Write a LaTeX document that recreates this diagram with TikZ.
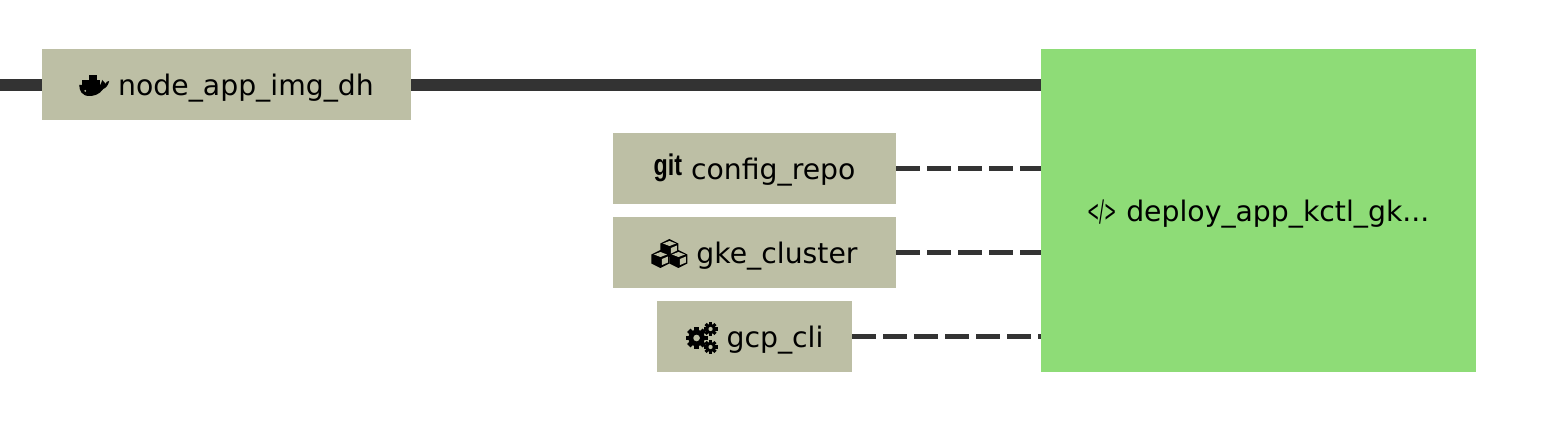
\documentclass[tikz,border=0pt]{standalone}
\usepackage{fontspec}
\setmainfont{DejaVu Sans}
\newfontfamily\iconfont{Liberation Sans}
\usetikzlibrary{positioning, arrows.meta}
\definecolor{jobtan}{HTML}{BDBFA5}
\definecolor{jobgreen}{HTML}{8EDC77}
\definecolor{linegray}{HTML}{333333}

% small icons, one unit is one pixel of the picture, y=0 on the text baseline
\newcommand{\dockericon}{\tikz[x=0.02cm,y=-0.02cm,baseline={(0,0)}]{
    \path (0,0) rectangle (29,-20);
    \fill[black] (3,-16) rectangle (21,-9);
    \fill[black] (10,-21) rectangle (18,-16);
    \fill[black] (0,-11) -- (21,-11) .. controls (22,-12) and (22,-14) .. (23,-16)
      .. controls (25,-14) and (26,-13) .. (26,-12)
      .. controls (27,-14) and (28,-15) .. (30,-15)
      .. controls (29,-11) and (27,-8) .. (24,-7)
      .. controls (20,-1) and (14,0) .. (10,0)
      .. controls (3,0) and (0,-5) .. (0,-11) -- cycle;
    \fill[jobtan] (6,-5) circle (1);
  }}
\newcommand{\cubesicon}{\tikz[x=0.02cm,y=-0.02cm,baseline={(0,0)}]{
    \path (0,0) rectangle (36,-24);
    \foreach \cx/\ct in {18/-25,9/-14,27/-14}{
      \fill[black] (\cx,\ct) -- (\cx+9,\ct+4.5) -- (\cx+9,\ct+13.5) -- (\cx,\ct+18)
        -- (\cx-9,\ct+13.5) -- (\cx-9,\ct+4.5) -- cycle;
      \fill[jobtan] (\cx,\ct+2) -- (\cx+6.5,\ct+4.5) -- (\cx,\ct+7) -- (\cx-6.5,\ct+4.5) -- cycle;
      \fill[jobtan] (\cx+1.5,\ct+9) -- (\cx+7.5,\ct+6.5) -- (\cx+7.5,\ct+12.5) -- (\cx+1.5,\ct+15) -- cycle;
    }
  }}
\newcommand{\gearpart}[3]{%
  \fill[black] (#1,#2) circle (#3*0.75);
  \foreach \a in {0,45,...,315}{
    \fill[black, shift={(#1,#2)}, rotate=\a] (-#3*0.22,0) rectangle (#3*0.22,#3);
  }
  \fill[jobtan] (#1,#2) circle (#3*0.3);
}
\newcommand{\gearsicon}{\tikz[x=0.02cm,y=-0.02cm,baseline={(0,0)}]{
    \path (0,0) rectangle (32,-24);
    \gearpart{11}{-10}{11}
    \gearpart{25}{-19}{7}
    \gearpart{25}{-1}{7}
  }}
\newcommand{\giticon}{\raisebox{0.09cm}{\fontsize{17}{20}\selectfont\iconfont\bfseries\scalebox{0.78}[1]{git}}}
\newcommand{\codeicon}{\scalebox{0.52}[1.05]{</>}}

\begin{document}
\begin{tikzpicture}[
    x=0.02cm, y=-0.02cm,
    font=\fontsize{16.1}{20}\selectfont,
    jobbox/.style={fill=jobtan, text=black, inner sep=0pt, minimum height=1.42cm, text height=0.54cm, text depth=0.08cm},
    mainbox/.style={fill=jobgreen, text=black, inner sep=0pt, minimum width=8.7cm, minimum height=6.48cm, text height=0.54cm, text depth=0.08cm},
    passed/.style={draw=linegray, line width=0.23cm},
    depends/.style={draw=linegray, line width=0.1cm, dash pattern=on 0.48cm off 0.14cm},
  ]
  \useasboundingbox (0,0) rectangle (1560,438);
  \fill[white] (0,0) rectangle (1560,438);

  % ----- main job -----
  \node[mainbox] (deploy) at (1258.5,210.5) {\codeicon{} deploy\_app\_kctl\_gk...};

  % ----- inputs -----
  \node[jobbox, minimum width=7.38cm] (img) at (226.5,84.5) {\dockericon{} node\_app\_img\_dh};
  \node[jobbox, minimum width=5.66cm] (repo) at (754.5,168.5) {\giticon{} config\_repo};
  \node[jobbox, minimum width=5.66cm] (cluster) at (754.5,252.5) {\cubesicon{} gke\_cluster};
  \node[jobbox, minimum width=3.9cm] (cli) at (754.5,336.5) {\gearsicon{} gcp\_cli};
  \coordinate (start) at (0,85);

  % ----- wiring -----
  \draw[passed] (start) -- (img.west |- start);                 % free end on the left
  \draw[passed] (img.east |- start) -- (deploy.west |- start);  % image -> deploy
  \draw[depends] (repo.east) -- (repo.east -| deploy.west);
  \draw[depends] (cluster.east) -- (cluster.east -| deploy.west);
  \draw[depends] (cli.east) -- (cli.east -| deploy.west);
\end{tikzpicture}
\end{document}
